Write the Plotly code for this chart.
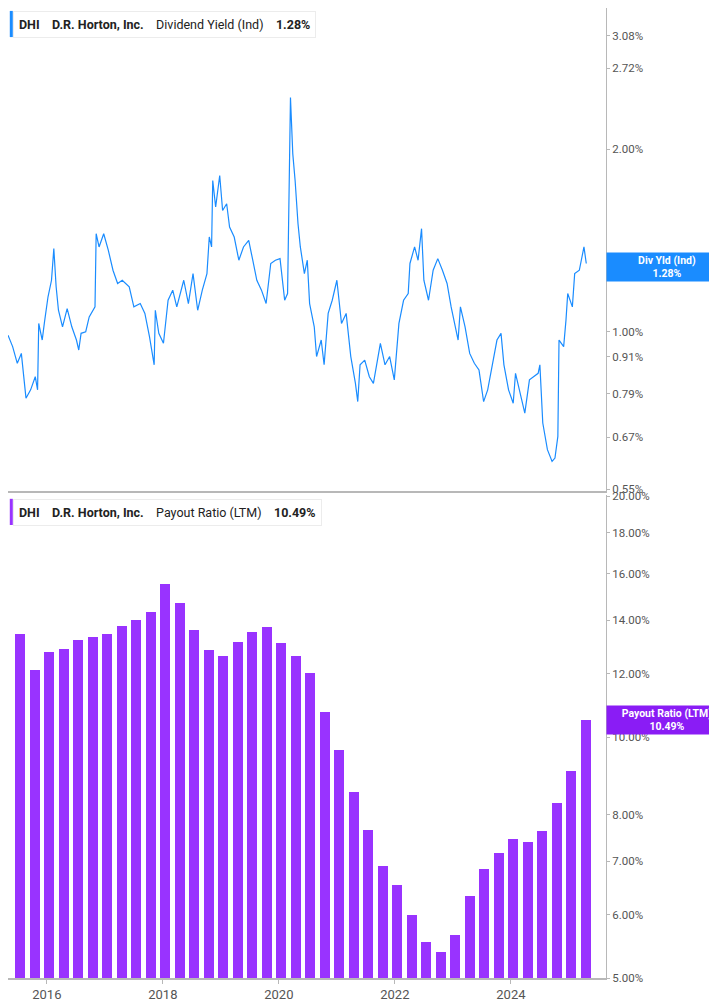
import plotly.graph_objects as go
from plotly.subplots import make_subplots

# Dividend yield (%); x in decimal years
yld_t = [2015.33, 2015.41, 2015.49, 2015.56, 2015.64, 2015.72, 2015.80, 2015.84, 2015.86, 2015.92,
         2015.96, 2016.02, 2016.08, 2016.12, 2016.16, 2016.20, 2016.27, 2016.35, 2016.43, 2016.51,
         2016.55, 2016.59, 2016.67, 2016.73, 2016.83, 2016.85, 2016.90, 2016.98, 2017.06, 2017.14,
         2017.22, 2017.30, 2017.42, 2017.50, 2017.61, 2017.69, 2017.77, 2017.85, 2017.87, 2017.93,
         2018.01, 2018.09, 2018.17, 2018.24, 2018.36, 2018.44, 2018.52, 2018.60, 2018.68, 2018.76,
         2018.80, 2018.84, 2018.86, 2018.91, 2018.98, 2019.03, 2019.10, 2019.15, 2019.23, 2019.31,
         2019.39, 2019.48, 2019.55, 2019.62, 2019.70, 2019.78, 2019.86, 2019.94, 2020.02, 2020.10,
         2020.15, 2020.20, 2020.24, 2020.28, 2020.33, 2020.37, 2020.44, 2020.49, 2020.53, 2020.61,
         2020.65, 2020.73, 2020.78, 2020.85, 2020.92, 2021.00, 2021.08, 2021.16, 2021.24, 2021.32,
         2021.36, 2021.40, 2021.48, 2021.56, 2021.63, 2021.75, 2021.83, 2021.91, 2021.99, 2022.07,
         2022.15, 2022.23, 2022.26, 2022.34, 2022.40, 2022.46, 2022.50, 2022.58, 2022.66, 2022.74,
         2022.82, 2022.90, 2022.97, 2023.05, 2023.09, 2023.13, 2023.21, 2023.29, 2023.37, 2023.45,
         2023.53, 2023.60, 2023.68, 2023.76, 2023.83, 2023.88, 2023.96, 2024.04, 2024.08, 2024.16,
         2024.24, 2024.32, 2024.39, 2024.47, 2024.50, 2024.55, 2024.63, 2024.71, 2024.76, 2024.81,
         2024.83, 2024.91, 2024.95, 2024.98, 2025.06, 2025.10, 2025.18, 2025.26, 2025.30]
yld_v = [0.987, 0.945, 0.887, 0.921, 0.777, 0.802, 0.843, 0.802, 1.032, 0.969,
         1.039, 1.142, 1.216, 1.371, 1.186, 1.085, 1.019, 1.092, 1.019, 0.969,
         0.933, 0.994, 1.000, 1.058, 1.099, 1.451, 1.380, 1.451, 1.362, 1.263,
         1.201, 1.216, 1.186, 1.099, 1.113, 1.072, 0.981, 0.882, 1.085, 0.994,
         0.957, 1.127, 1.171, 1.099, 1.216, 1.113, 1.247, 1.085, 1.171, 1.247,
         1.433, 1.380, 1.776, 1.606, 1.810, 1.585, 1.626, 1.488, 1.433, 1.312,
         1.380, 1.415, 1.312, 1.216, 1.171, 1.113, 1.296, 1.312, 1.320, 1.127,
         1.156, 2.435, 1.965, 1.776, 1.507, 1.380, 1.247, 1.312, 1.113, 1.019,
         0.910, 0.969, 0.882, 1.072, 1.127, 1.216, 1.032, 1.072, 0.910, 0.822,
         0.767, 0.882, 0.898, 0.843, 0.822, 0.957, 0.882, 0.910, 0.833, 1.032,
         1.127, 1.156, 1.296, 1.380, 1.312, 1.479, 1.216, 1.127, 1.263, 1.320,
         1.263, 1.201, 1.099, 1.019, 0.969, 1.099, 1.019, 0.921, 0.887, 0.865,
         0.767, 0.802, 0.882, 0.969, 0.994, 0.882, 0.802, 0.762, 0.854, 0.792,
         0.734, 0.833, 0.843, 0.854, 0.882, 0.707, 0.639, 0.611, 0.619, 0.672,
         0.969, 0.945, 1.045, 1.156, 1.099, 1.247, 1.263, 1.380, 1.296]

# Payout ratio (LTM, %), quarterly
pay_t = [2015.5 + 0.25 * i for i in range(40)]
pay_v = [13.42, 12.13, 12.77, 12.86, 13.22, 13.31, 13.44, 13.77, 14.00, 14.33,
         15.50, 14.70, 13.60, 12.83, 12.60, 13.15, 13.53, 13.73, 13.10, 12.60,
         12.02, 10.73, 9.62, 8.52, 7.64, 6.89, 6.52, 5.99, 5.54, 5.38,
         5.66, 6.32, 6.84, 7.15, 7.46, 7.38, 7.62, 8.27, 9.07, 10.49]

year_ticks = [2016, 2018, 2020, 2022, 2024]
yld_ticks = [0.55, 0.67, 0.79, 0.91, 1.00, 2.00, 2.72, 3.08]
pay_ticks = [5, 6, 7, 8, 10, 12, 14, 16, 18, 20]

BLUE = "#1a8cff"
PURPLE = "#9933ff"
GRID = "#b8b8b8"

fig = make_subplots(rows=2, cols=1, shared_xaxes=True, vertical_spacing=0.005,
                    row_heights=[0.5, 0.5])

fig.add_trace(go.Scatter(x=yld_t, y=yld_v, mode="lines",
                         line=dict(color=BLUE, width=1.2)), row=1, col=1)
fig.add_trace(go.Bar(x=[t + 0.04 for t in pay_t], y=pay_v, width=0.17,
                     marker=dict(color=PURPLE, line=dict(width=0))), row=2, col=1)

tickfont = dict(size=11.5, color="#555555")
fig.update_yaxes(type="log", side="right", showgrid=False, ticks="outside", ticklen=3,
                 tickcolor=GRID, showline=True, linecolor=GRID, tickfont=tickfont,
                 zeroline=False, automargin=False)
fig.update_yaxes(range=[-0.262, 0.534], tickvals=yld_ticks,
                 ticktext=[f"{v:.2f}%" for v in yld_ticks], row=1, col=1)
fig.update_yaxes(range=[0.699, 1.302], tickvals=pay_ticks,
                 ticktext=[f"{v:.2f}%" for v in pay_ticks], row=2, col=1)
fig.update_xaxes(range=[2015.33, 2025.64], showgrid=False, zeroline=False,
                 showline=True, linecolor=GRID, linewidth=1.5, automargin=False)
fig.update_xaxes(showticklabels=False, ticks="", row=1, col=1)
fig.update_xaxes(tickvals=year_ticks, ticktext=[str(y) for y in year_ticks],
                 ticks="outside", ticklen=4, tickcolor=GRID,
                 tickfont=dict(size=13, color="#555555"), row=2, col=1)

legend_font = dict(family="Roboto", size=12.5, color="#222222")
fig.update_layout(
    width=717, height=1005,
    margin=dict(l=0, r=119, t=0, b=35),
    plot_bgcolor="white", paper_bgcolor="white",
    showlegend=False, bargap=0,
    font=dict(family="Roboto"),
    shapes=[
        dict(type="rect", xref="paper", yref="paper", x0=0.003, x1=0.008,
             y0=0.97, y1=0.997, fillcolor=BLUE, line=dict(width=0)),
        dict(type="rect", xref="paper", yref="paper", x0=0.003, x1=0.008,
             y0=0.467, y1=0.494, fillcolor=PURPLE, line=dict(width=0)),
    ],
    annotations=[
        dict(text="<b>DHI</b>    <b>D.R. Horton, Inc.</b>    Dividend Yield (Ind)    <b>1.28%</b>",
             xref="paper", yref="paper", x=0.008, y=0.997, xanchor="left", yanchor="top",
             showarrow=False, font=legend_font, bgcolor="white",
             bordercolor="#ececec", borderwidth=1, borderpad=5),
        dict(text="<b>DHI</b>    <b>D.R. Horton, Inc.</b>    Payout Ratio (LTM)    <b>10.49%</b>",
             xref="paper", yref="paper", x=0.008, y=0.494, xanchor="left", yanchor="top",
             showarrow=False, font=legend_font, bgcolor="white",
             bordercolor="#ececec", borderwidth=1, borderpad=5),
        dict(text="<b>Div Yld (Ind)<br>1.28%</b>", xref="paper", yref="y",
             x=1.0, y=0.1072, xanchor="left", yanchor="middle", showarrow=False,
             width=118, height=26, bgcolor=BLUE, borderpad=1,
             font=dict(family="Roboto", size=10.5, color="white")),
        dict(text="<b>Payout Ratio (LTM)<br>10.49%</b>", xref="paper", yref="y2",
             x=1.0, y=1.0208, xanchor="left", yanchor="middle", showarrow=False,
             width=118, height=26, bgcolor="#8a1cf5", borderpad=1,
             font=dict(family="Roboto", size=10.5, color="white")),
    ],
)

fig.write_html("out.html")
